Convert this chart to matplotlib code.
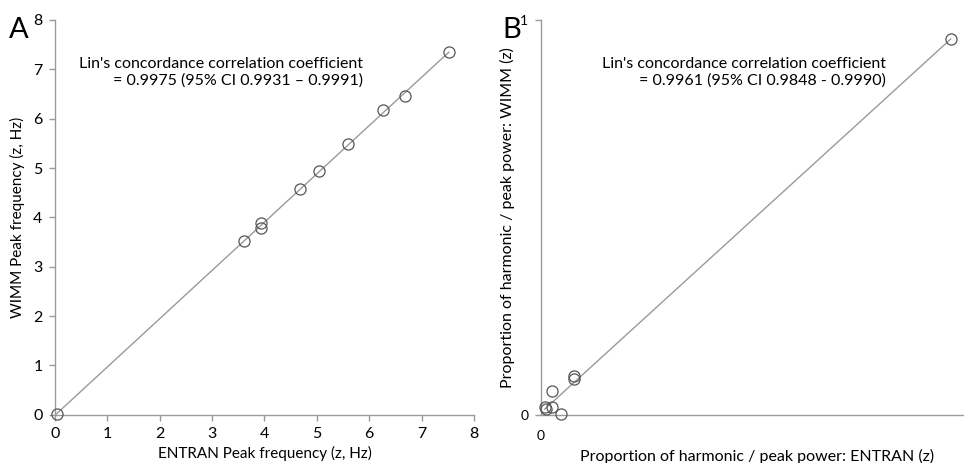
import numpy as np
import matplotlib.pyplot as plt

plt.rcParams['font.family'] = ['Lato', 'DejaVu Sans']

# Panel A: peak frequency (z, Hz)
entran_freq = [0.03, 3.61, 3.93, 3.93, 4.68, 5.04, 5.59, 6.27, 6.68, 7.52]
wimm_freq = [0.01, 3.52, 3.88, 3.79, 4.58, 4.93, 5.48, 6.17, 6.46, 7.34]
freq_ticks = [0, 1, 2, 3, 4, 5, 6, 7, 8]

# Panel B: proportion of harmonic / peak power (z)
entran_prop = [0.949, 0.077, 0.076, 0.027, 0.009, 0.012, 0.025, 0.046]
wimm_prop = [0.951, 0.0995, 0.091, 0.061, 0.021, 0.015, 0.019, 0.002]

ccc_a = "Lin's concordance correlation coefficient\n= 0.9975 (95% CI 0.9931 \u2013 0.9991)"
ccc_b = "Lin's concordance correlation coefficient\n= 0.9961 (95% CI 0.9848 - 0.9990)"

spine_col = "#9a9a9a"
mk_col = "#555555"

fig = plt.figure(figsize=(9.64, 4.63), dpi=100)
axA = fig.add_axes([0.057, 0.104, 0.4347, 0.853])
axB = fig.add_axes([0.561, 0.104, 0.448, 0.853])


def style(ax, size):
    for s in ["top", "right"]:
        ax.spines[s].set_visible(False)
    for s in ["left", "bottom"]:
        ax.spines[s].set_color(spine_col)
        ax.spines[s].set_linewidth(1.0)
    ax.tick_params(colors=spine_col, labelcolor="black", length=4, width=1,
                   labelsize=size, pad=5)


def fit_line(ax, x, y):
    x = np.array(x)
    b, a = np.polyfit(x, y, 1)
    xr = np.array([x.min(), x.max()])
    ax.plot(xr, a + b * xr, "-", color=spine_col, lw=1.0, zorder=1)


# A
style(axA, 11.5)
fit_line(axA, entran_freq, wimm_freq)
axA.plot(entran_freq, wimm_freq, "o", mfc="none", mec=mk_col, ms=8, mew=0.9,
         zorder=3, clip_on=False)
axA.set_xlim(0, 8)
axA.set_ylim(0, 8)
axA.set_xticks(freq_ticks)
axA.set_yticks(freq_ticks)
axA.set_xlabel("ENTRAN Peak frequency (z, Hz)", fontsize=11, labelpad=3)
axA.set_ylabel("WIMM Peak frequency (z, Hz)", fontsize=11, labelpad=6)
axA.text(0.735, 0.905, ccc_a, transform=axA.transAxes, ha="right", va="top",
         fontsize=11.5, multialignment="right", linespacing=1.2)
fig.text(0.009, 0.935, "A", fontsize=21, va="center", ha="left")

# B
style(axB, 10)
fit_line(axB, entran_prop, wimm_prop)
axB.plot(entran_prop, wimm_prop, "o", mfc="none", mec=mk_col, ms=8, mew=0.9,
         zorder=3, clip_on=False)
axB.set_xlim(0, 1)
axB.set_ylim(0, 1)
axB.set_xticks([0])
axB.set_yticks([0, 1])
axB.tick_params(axis="x", length=0, pad=11)
axB.set_xlabel("Proportion of harmonic / peak power: ENTRAN (z)", fontsize=11.5, labelpad=5)
axB.set_ylabel("Proportion of harmonic / peak power: WIMM (z)", fontsize=11.5, labelpad=4)
axB.text(0.80, 0.905, ccc_b, transform=axB.transAxes, ha="right", va="top",
         fontsize=11.5, multialignment="right", linespacing=1.2)
fig.text(0.521, 0.935, "B", fontsize=21, va="center", ha="left")

fig.savefig("out.png", dpi=100)
